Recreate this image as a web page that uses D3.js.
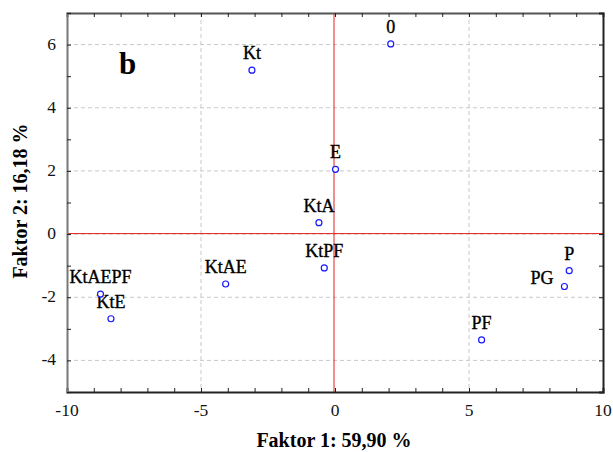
<!DOCTYPE html>
<html>
<head>
<meta charset="utf-8">
<script src="https://cdn.jsdelivr.net/npm/d3@7"></script>
<style>
body { margin: 0; background: #fff; }
text { font-family: "Liberation Serif", "Times New Roman", serif; }
</style>
</head>
<body>
<div id="chart"></div>
<script>
// sample names and their scores on the two factors
var names = ["0", "Kt", "E", "KtA", "KtPF", "KtAE", "KtAEPF", "KtE", "P", "PG", "PF"];
var faktor1 = [2.08, -3.1, 0.02, -0.6, -0.4, -4.08, -8.75, -8.36, 8.74, 8.56, 5.47];
var faktor2 = [6.02, 5.19, 2.05, 0.36, -1.07, -1.58, -1.9, -2.68, -1.16, -1.66, -3.35];

var xTicks = [-10, -5, 0, 5, 10];
var yTicks = [-4, -2, 0, 2, 4, 6];

var margin = {top: 13, right: 10, bottom: 60, left: 67};
var width = 613 - margin.left - margin.right;
var height = 452 - margin.top - margin.bottom;

var svg = d3.select("#chart").append("svg")
    .attr("width", width + margin.left + margin.right)
    .attr("height", height + margin.top + margin.bottom)
    .append("g")
    .attr("transform", "translate(" + margin.left + "," + margin.top + ")");

var x = d3.scaleLinear().domain([-10, 10]).range([0, width]);
var y = d3.scaleLinear().domain([-5, 7]).range([height, 0]);

// dashed grid at the major ticks
svg.append("g")
    .selectAll("line")
    .data(xTicks.filter(function(d) { return d != 0 && d != -10 && d != 10; }))
    .enter().append("line")
    .attr("x1", function(d) { return x(d); })
    .attr("x2", function(d) { return x(d); })
    .attr("y1", 0).attr("y2", height)
    .attr("stroke", "#c8c8c8")
    .attr("stroke-dasharray", "4,3");

svg.append("g")
    .selectAll("line")
    .data(yTicks)
    .enter().append("line")
    .attr("x1", 0).attr("x2", width)
    .attr("y1", function(d) { return y(d); })
    .attr("y2", function(d) { return y(d); })
    .attr("stroke", "#c8c8c8")
    .attr("stroke-dasharray", "4,3");

// red zero lines
svg.append("line")
    .attr("x1", x(0) - 1).attr("x2", x(0) - 1)
    .attr("y1", 0).attr("y2", height)
    .attr("stroke", "#e02020").attr("stroke-width", 1);
svg.append("line")
    .attr("x1", 0).attr("x2", width)
    .attr("y1", y(0) - 0.5).attr("y2", y(0) - 0.5)
    .attr("stroke", "#e02020").attr("stroke-width", 1);

// minor ticks every unit, pointing inwards
var minorX = d3.range(-10, 11, 1);
var minorY = d3.range(-5, 8, 1);

var bottomAxis = svg.append("g")
    .attr("transform", "translate(0," + height + ")")
    .call(d3.axisBottom(x).tickValues(minorX).tickSize(-4).tickFormat(""));
var topAxis = svg.append("g")
    .call(d3.axisTop(x).tickValues(minorX).tickSize(-4).tickFormat(""));
var leftAxis = svg.append("g")
    .call(d3.axisLeft(y).tickValues(minorY).tickSize(-4).tickFormat(""));
var rightAxis = svg.append("g")
    .attr("transform", "translate(" + width + ",0)")
    .call(d3.axisRight(y).tickValues(minorY).tickSize(-4).tickFormat(""));

[bottomAxis, topAxis, leftAxis, rightAxis].forEach(function(a) {
    a.select(".domain").attr("stroke", "#222").attr("stroke-width", 2);
    a.selectAll(".tick line").attr("stroke", "#222");
});
leftAxis.select(".domain").attr("stroke", "#777");
topAxis.select(".domain").attr("stroke", "#555");

// tick labels
svg.append("g")
    .selectAll("text")
    .data(xTicks)
    .enter().append("text")
    .attr("x", function(d) { return x(d); })
    .attr("y", height + 24)
    .attr("text-anchor", "middle")
    .attr("font-size", 17.5)
    .attr("fill", "#111")
    .text(function(d) { return d; });

svg.append("g")
    .selectAll("text")
    .data(yTicks)
    .enter().append("text")
    .attr("x", -11)
    .attr("y", function(d) { return y(d) + 5; })
    .attr("text-anchor", "end")
    .attr("font-size", 17.5)
    .attr("fill", "#111")
    .text(function(d) { return d; });

// axis titles
svg.append("text")
    .attr("x", x(0) - 1)
    .attr("y", height + 55)
    .attr("text-anchor", "middle")
    .attr("font-size", 20)
    .attr("font-weight", "bold")
    .text("Faktor 1: 59,90 %");

svg.append("text")
    .attr("transform", "rotate(-90)")
    .attr("x", -(201 - margin.top))
    .attr("y", -40)
    .attr("text-anchor", "middle")
    .attr("font-size", 20)
    .attr("font-weight", "bold")
    .text("Faktor 2: 16,18 %");

// panel letter
svg.append("text")
    .attr("x", 52)
    .attr("y", 61)
    .attr("font-size", 31)
    .attr("font-weight", "bold")
    .text("b");

// points and labels
var points = names.map(function(n, i) { return {name: n, f1: faktor1[i], f2: faktor2[i]}; });

svg.selectAll(".pt-label")
    .data(points)
    .enter().append("text")
    .attr("class", "pt-label")
    .attr("x", function(d) { return d.name == "PG" ? x(d.f1) - 11 : x(d.f1); })
    .attr("y", function(d) { return d.name == "PG" ? y(d.f2) - 3 : y(d.f2) - 11; })
    .attr("text-anchor", function(d) { return d.name == "PG" ? "end" : "middle"; })
    .attr("font-size", 18)
    .attr("fill", "#000")
    .attr("stroke", "#000")
    .attr("stroke-width", 0.35)
    .text(function(d) { return d.name; });

svg.selectAll(".pt")
    .data(points)
    .enter().append("circle")
    .attr("class", "pt")
    .attr("cx", function(d) { return x(d.f1); })
    .attr("cy", function(d) { return y(d.f2); })
    .attr("r", 3)
    .attr("fill", "white")
    .attr("stroke", "#1a1aff")
    .attr("stroke-width", 1.2);
</script>
</body>
</html>
